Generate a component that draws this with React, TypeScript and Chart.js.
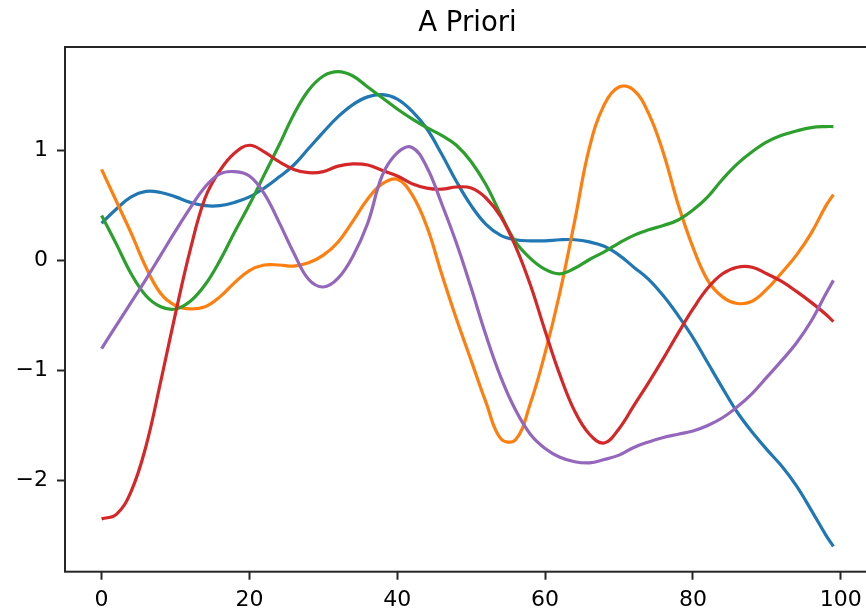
import React, { useEffect, useRef } from "react";
import { Chart, registerables } from "chart.js";

Chart.register(...registerables);

const chartTitle = "A Priori";

const xValues = [
  0, 2, 4, 6, 8, 10, 12, 14, 16, 18, 20, 22, 24, 26, 28, 30, 32, 34, 36, 38, 40, 42, 44, 46, 48,
  50, 52, 54, 56, 58, 60, 62, 64, 66, 68, 70, 72, 74, 76, 78, 80, 82, 84, 86, 88, 90, 92, 94, 96,
  98, 99,
];

const sample0 = [
  0.34, 0.47, 0.58, 0.63, 0.62, 0.58, 0.53, 0.5, 0.5, 0.53, 0.58, 0.66, 0.76, 0.87, 1.02, 1.17,
  1.31, 1.42, 1.49, 1.51, 1.47, 1.36, 1.2, 0.97, 0.72, 0.5, 0.33, 0.23, 0.19, 0.18, 0.18, 0.19,
  0.19, 0.17, 0.13, 0.05, -0.06, -0.17, -0.32, -0.5, -0.7, -0.93, -1.16, -1.38, -1.56, -1.72,
  -1.87, -2.05, -2.27, -2.5, -2.6,
];

const sample1 = [
  0.83, 0.54, 0.25, -0.06, -0.3, -0.41, -0.44, -0.42, -0.33, -0.2, -0.09, -0.04, -0.04, -0.05,
  -0.02, 0.05, 0.17, 0.36, 0.56, 0.7, 0.74, 0.6, 0.31, -0.12, -0.53, -0.91, -1.29, -1.62, -1.63,
  -1.3, -0.84, -0.29, 0.36, 1.03, 1.42, 1.58, 1.55, 1.34, 0.98, 0.51, 0.12, -0.18, -0.33, -0.39,
  -0.37, -0.26, -0.11, 0.05, 0.25, 0.5, 0.6,
];

const sample2 = [
  0.41, 0.15, -0.12, -0.32, -0.42, -0.44, -0.37, -0.22, 0.0, 0.26, 0.51, 0.78, 1.05, 1.33, 1.55,
  1.68, 1.72, 1.68, 1.58, 1.48, 1.38, 1.29, 1.21, 1.14, 1.05, 0.9, 0.69, 0.42, 0.17, 0.02, -0.08,
  -0.12, -0.07, 0.01, 0.08, 0.16, 0.23, 0.28, 0.32, 0.37, 0.46, 0.58, 0.74, 0.88, 0.99, 1.08,
  1.14, 1.18, 1.21, 1.22, 1.22,
];

const sample3 = [
  -2.35, -2.31, -2.1, -1.69, -1.1, -0.48, 0.1, 0.57, 0.82, 0.98, 1.05, 0.99, 0.9, 0.83, 0.8,
  0.81, 0.86, 0.88, 0.87, 0.82, 0.77, 0.7, 0.66, 0.65, 0.67, 0.66, 0.57, 0.4, 0.13, -0.22, -0.64,
  -1.04, -1.37, -1.58, -1.66, -1.53, -1.32, -1.11, -0.89, -0.66, -0.44, -0.25, -0.12, -0.06,
  -0.06, -0.12, -0.19, -0.28, -0.38, -0.49, -0.556,
];

const sample4 = [
  -0.8, -0.59, -0.38, -0.17, 0.05, 0.27, 0.48, 0.67, 0.79, 0.81, 0.77, 0.61, 0.35, 0.07, -0.17,
  -0.24, -0.16, 0.04, 0.34, 0.78, 0.98, 1.03, 0.85, 0.52, 0.16, -0.25, -0.68, -1.06, -1.36, -1.58,
  -1.71, -1.79, -1.83, -1.84, -1.81, -1.77, -1.7, -1.65, -1.61, -1.58, -1.55, -1.5, -1.43, -1.33,
  -1.21, -1.06, -0.91, -0.75, -0.55, -0.3, -0.18,
];

const seriesList = [sample0, sample1, sample2, sample3, sample4];
const seriesColors = ["#1f77b4", "#ff7f0e", "#2ca02c", "#d62728", "#9467bd"];

const xTickValues = [0, 20, 40, 60, 80, 100];
const yTickValues = [-2, -1, 0, 1];

const FONT = "'DejaVu Sans', 'Liberation Sans', sans-serif";
const SPINE = "#262626";

const framePlugin = {
  id: "frame",
  afterDraw(chart: any) {
    const { ctx, chartArea } = chart;
    ctx.save();
    ctx.strokeStyle = SPINE;
    ctx.lineWidth = 2;
    ctx.strokeRect(
      chartArea.left,
      chartArea.top,
      chartArea.right - chartArea.left,
      chartArea.bottom - chartArea.top
    );
    ctx.restore();
  },
};

export default function App() {
  const ref = useRef<HTMLCanvasElement | null>(null);

  useEffect(() => {
    if (!ref.current) return;
    const datasets = seriesList.map((s, i) => ({
      label: "sample " + i,
      data: xValues.map((x, j) => ({ x, y: s[j] })),
      borderColor: seriesColors[i],
      backgroundColor: seriesColors[i],
      borderWidth: 3.2,
      pointRadius: 0,
      fill: false,
      tension: 0.4,
      borderCapStyle: "butt" as const,
      borderJoinStyle: "round" as const,
      order: seriesList.length - i,
    }));

    const chart = new Chart(ref.current, {
      type: "line",
      data: { datasets },
      plugins: [framePlugin],
      options: {
        animation: false,
        responsive: false,
        maintainAspectRatio: false,
        devicePixelRatio: 1,
        layout: { padding: { left: 0, right: 10, top: 0, bottom: 0 } },
        plugins: {
          legend: { display: false },
          tooltip: { enabled: false },
          title: {
            display: true,
            text: chartTitle,
            fullSize: false,
            color: "#000",
            font: { family: FONT, size: 27.5, weight: "normal", lineHeight: 1.2 },
            padding: { top: 7.5, bottom: 6.5 },
          },
        },
        scales: {
          x: {
            type: "linear",
            min: -4.95,
            max: 103.95,
            afterBuildTicks: (scale: any) => {
              scale.ticks = xTickValues.map((v) => ({ value: v }));
            },
            afterFit: (scale: any) => {
              scale.height = 40.3;
            },
            ticks: {
              color: "#000",
              font: { family: FONT, size: 22 },
              padding: 7,
              maxRotation: 0,
              autoSkip: false,
              callback: (v: any) => String(v),
            },
            grid: {
              display: true,
              drawOnChartArea: false,
              drawTicks: true,
              tickLength: 8,
              tickWidth: 2,
              tickColor: SPINE,
            },
            border: { display: false },
          },
          y: {
            type: "linear",
            min: -2.831,
            max: 1.944,
            afterBuildTicks: (scale: any) => {
              scale.ticks = yTickValues.map((v) => ({ value: v }));
            },
            afterFit: (scale: any) => {
              scale.width = 65;
            },
            ticks: {
              color: "#000",
              font: { family: FONT, size: 22 },
              padding: 9,
              autoSkip: false,
              callback: (v: any) => (Number(v) < 0 ? "\u2212" + Math.abs(Number(v)) : String(v)),
            },
            grid: {
              display: true,
              drawOnChartArea: false,
              drawTicks: true,
              tickLength: 8,
              tickWidth: 2,
              tickColor: SPINE,
            },
            border: { display: false },
          },
        },
      },
    } as any);

    return () => chart.destroy();
  }, []);

  return (
    <div
      style={{
        position: "fixed",
        left: 0,
        top: 0,
        width: 866,
        height: 612,
        overflow: "hidden",
        background: "#fff",
      }}
    >
      <canvas ref={ref} width={880} height={612} style={{ display: "block", width: 880, height: 612 }} />
    </div>
  );
}
